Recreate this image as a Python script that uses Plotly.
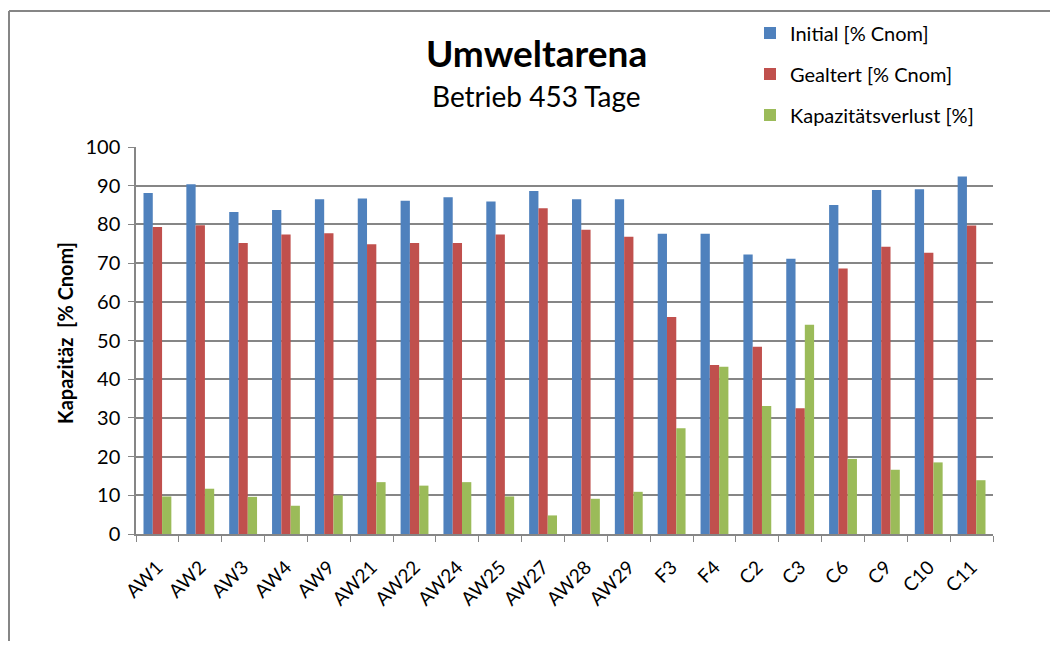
import plotly.graph_objects as go

categories = ["AW1", "AW2", "AW3", "AW4", "AW9", "AW21", "AW22", "AW24", "AW25", "AW27",
              "AW28", "AW29", "F3", "F4", "C2", "C3", "C6", "C9", "C10", "C11"]
initial = [88.1, 90.4, 83.2, 83.7, 86.5, 86.7, 86.1, 87.0, 85.9, 88.6,
           86.5, 86.5, 77.6, 77.6, 72.2, 71.1, 85.0, 88.9, 89.1, 92.4]
gealtert = [79.3, 79.8, 75.2, 77.4, 77.7, 74.9, 75.2, 75.2, 77.4, 84.2,
            78.6, 76.8, 56.1, 43.7, 48.4, 32.5, 68.6, 74.2, 72.7, 79.7]
verlust = [9.7, 11.7, 9.6, 7.3, 10.0, 13.4, 12.5, 13.4, 9.7, 4.8,
           9.1, 10.9, 27.3, 43.2, 33.1, 54.1, 19.4, 16.6, 18.5, 13.9]
series_names = ["Initial [% Cnom]", "Gealtert [% Cnom]", "Kapazitätsverlust [%]"]
colors = ["#4F81BD", "#C0504D", "#9BBB59"]
y_ticks = [0, 10, 20, 30, 40, 50, 60, 70, 80, 90, 100]

FONT = "Lato, 'Open Sans', sans-serif"
OFF = 8  # default page body margin
W, H = 1058 - 2 * OFF, 649 - 2 * OFF
# target screen coords of plot area: x 136..993, y 147..534
ML, MR, MT, MB = 136 - OFF, W - (993 - OFF), 147 - OFF, H - (534 - OFF)
pw, ph = W - ML - MR, H - MT - MB

def px_x(p):  # p in screen px
    return (p - OFF - ML) / pw

def px_y(p):
    return 1 - (p - OFF - MT) / ph

legend_rows = [33, 74, 115]
legend_ids = ["legend", "legend2", "legend3"]

fig = go.Figure()
for name, vals, col, lid in zip(series_names, [initial, gealtert, verlust], colors, legend_ids):
    fig.add_trace(go.Bar(x=categories, y=vals, name=name, marker_color=col,
                         marker_line_width=0, legend=lid))

legend_layout = {}
for lid, row in zip(legend_ids, legend_rows):
    legend_layout[lid] = dict(x=px_x(750), y=px_y(row), xanchor="left", yanchor="middle",
                              font=dict(size=20, family=FONT), bgcolor="rgba(0,0,0,0)")

fig.update_layout(
    width=W, height=H,
    margin=dict(l=ML, r=MR, t=MT, b=MB, autoexpand=False),
    paper_bgcolor="white", plot_bgcolor="white",
    barmode="group", bargap=0.35, bargroupgap=0,
    font=dict(family=FONT, color="#000000"),
    showlegend=True,
    **legend_layout,
    xaxis=dict(type="category", tickangle=-45, tickfont=dict(size=19, family=FONT),
               showline=True, linecolor="#868686", linewidth=1.5,
               ticks="outside", ticklen=6, tickcolor="#868686", tickson="boundaries",
               ticklabelstandoff=13, showgrid=False),
    yaxis=dict(range=[0, 100], tickvals=y_ticks, tickfont=dict(size=20, family=FONT),
               showline=True, linecolor="#868686", linewidth=1.5,
               ticks="outside", ticklen=6, tickcolor="#868686", ticklabelstandoff=4,
               showgrid=True, gridcolor="#868686", gridwidth=1.5),
    annotations=[
        dict(text="<b>Umweltarena</b>", x=px_x(536), y=px_y(53), xref="paper", yref="paper",
             showarrow=False, font=dict(size=37, family=FONT), xanchor="center", yanchor="middle"),
        dict(text="Betrieb 453 Tage", x=px_x(536), y=px_y(96), xref="paper", yref="paper",
             showarrow=False, font=dict(size=28, family=FONT), xanchor="center", yanchor="middle"),
        dict(text="<b>Kapazitäz  [% Cnom]</b>", x=px_x(65), y=px_y(333), xref="paper", yref="paper",
             showarrow=False, textangle=-90, font=dict(size=20, family=FONT),
             xanchor="center", yanchor="middle"),
    ],
    shapes=[
        dict(type="line", xref="paper", yref="paper", x0=px_x(9), x1=px_x(9),
             y0=px_y(11), y1=px_y(700), line=dict(color="#868686", width=2)),
        dict(type="line", xref="paper", yref="paper", x0=px_x(9), x1=px_x(1100),
             y0=px_y(11), y1=px_y(11), line=dict(color="#868686", width=2)),
    ],
)

fig.write_html("out.html")
